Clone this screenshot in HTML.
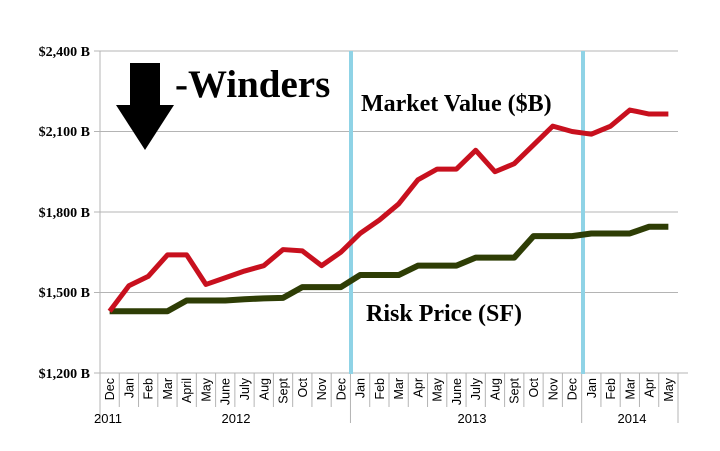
<!DOCTYPE html>
<html><head><style>
body{margin:0;background:#fff;width:720px;height:451px;overflow:hidden}
svg{display:block}
.yl{font:bold 14px "Liberation Serif",serif;text-anchor:end}
.ml{font:12.5px "Liberation Sans",sans-serif}
.yr{font:13px "Liberation Sans",sans-serif;text-anchor:middle}
</style></head><body>
<svg id="s" width="720" height="451" xmlns="http://www.w3.org/2000/svg">
<g stroke="#b4b4b4" stroke-width="1">
<line x1="100" y1="51" x2="678" y2="51"/>
<line x1="100" y1="131.5" x2="678" y2="131.5"/>
<line x1="100" y1="212" x2="678" y2="212"/>
<line x1="100" y1="292.5" x2="678" y2="292.5"/>
<line x1="94" y1="373" x2="688" y2="373"/>
<line x1="100" y1="51" x2="100" y2="373"/>
<line x1="94" y1="51" x2="100" y2="51"/><line x1="94" y1="131.5" x2="100" y2="131.5"/>
<line x1="94" y1="212" x2="100" y2="212"/><line x1="94" y1="292.5" x2="100" y2="292.5"/>
</g>
<g id="ticks" stroke="#b4b4b4"></g>
<text class="yl" x="90" y="56">$2,400 B</text>
<text class="yl" x="90" y="136">$2,100 B</text>
<text class="yl" x="90" y="217">$1,800 B</text>
<text class="yl" x="90" y="297">$1,500 B</text>
<text class="yl" x="90" y="378">$1,200 B</text>
<g id="months"></g>
<text class="yr" x="108" y="423">2011</text>
<text class="yr" x="236" y="423">2012</text>
<text class="yr" x="472" y="423">2013</text>
<text class="yr" x="632" y="423">2014</text>
<line x1="351" y1="51" x2="351" y2="374" stroke="#8fd3e6" stroke-width="4"/>
<line x1="583" y1="51" x2="583" y2="374" stroke="#8fd3e6" stroke-width="4"/>
<polyline id="g" fill="none" stroke="#2e3d05" stroke-width="6" stroke-linejoin="round"/>
<polyline id="r" fill="none" stroke="#c8101e" stroke-width="5" stroke-linejoin="round"/>
<rect x="130" y="63" width="30" height="43" fill="#000"/>
<polygon points="116,105 174,105 145,150" fill="#000"/>
<text x="175" y="97" style="font:bold 39px 'Liberation Serif',serif">-Winders</text>
<text x="361" y="111" style="font:bold 24px 'Liberation Serif',serif">Market Value ($B)</text>
<text x="366" y="321" style="font:bold 24px 'Liberation Serif',serif">Risk Price (SF)</text>
</svg>
<script>
var m=["Dec","Jan","Feb","Mar","April","May","June","July","Aug","Sept","Oct","Nov","Dec","Jan","Feb","Mar","Apr","May","June","July","Aug","Sept","Oct","Nov","Dec","Jan","Feb","Mar","Apr","May"];
var R=[1430,1525,1560,1640,1640,1530,1555,1580,1600,1660,1655,1600,1650,1720,1770,1830,1920,1960,1960,2030,1950,1980,2050,2120,2100,2090,2120,2180,2165,2165];
var G=[1430,1430,1430,1430,1470,1470,1470,1475,1478,1480,1520,1520,1520,1565,1565,1565,1600,1600,1600,1630,1630,1630,1710,1710,1710,1720,1720,1720,1745,1745];
var w=578/30,ns="http://www.w3.org/2000/svg";
function X(i){return 100+(i+0.5)*w}function Y(v){return 373-(v-1200)*322/1200}
var t=document.getElementById("ticks"),mo=document.getElementById("months");
for(var i=0;i<=30;i++){var x=100+i*w,l=document.createElementNS(ns,"line");l.setAttribute("x1",x);l.setAttribute("x2",x);l.setAttribute("y1",373);
l.setAttribute("y2",(i==0||i==13||i==25||i==30)?423:407);t.appendChild(l);}
for(var i=0;i<30;i++){var tx=document.createElementNS(ns,"text");tx.setAttribute("class","ml");tx.setAttribute("transform","translate("+(X(i)+4.5)+",378) rotate(-90)");tx.setAttribute("text-anchor","end");tx.textContent=m[i];mo.appendChild(tx);}
document.getElementById("r").setAttribute("points",R.map(function(v,i){return X(i)+","+Y(v)}).join(" "));
document.getElementById("g").setAttribute("points",G.map(function(v,i){return X(i)+","+Y(v)}).join(" "));
</script>
</body></html>
